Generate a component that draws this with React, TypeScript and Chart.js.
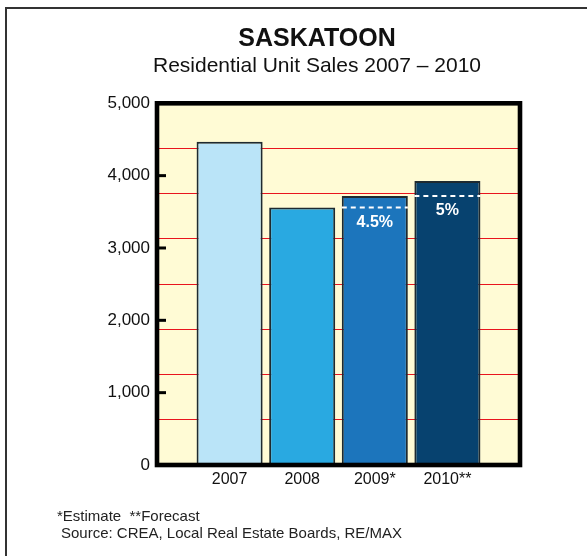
import React, { useEffect, useRef } from "react";
import { Chart, registerables } from "chart.js";

Chart.register(...registerables);

const years = ["2007", "2008", "2009*", "2010**"];
const sales = [4470, 3560, 3720, 3925];
const changeLabels = ["", "", "4.5%", "5%"];
const barColors = ["#BAE4F8", "#29A9E1", "#1C75BC", "#07426F"];
const yTickValues = [0, 1000, 2000, 3000, 4000, 5000];
const gridStep = 625;

const FONT = "'Liberation Sans', Arial, Helvetica, sans-serif";

const framePlugin = {
  id: "framePlugin",
  beforeDraw(chart: any) {
    const { ctx, chartArea } = chart;
    ctx.save();
    ctx.fillStyle = "#FFFBD5";
    ctx.fillRect(chartArea.left, chartArea.top, chartArea.right - chartArea.left, chartArea.bottom - chartArea.top);
    ctx.restore();
  },
  afterDatasetsDraw(chart: any) {
    const { ctx, chartArea, scales } = chart;
    const meta = chart.getDatasetMeta(0);
    const y = scales.y;
    ctx.save();
    meta.data.forEach((bar: any, i: number) => {
      if (!changeLabels[i]) return;
      const half = bar.width / 2;
      const py = y.getPixelForValue(sales[i - 1]);
      ctx.strokeStyle = "#FFFFFF";
      ctx.lineWidth = 2;
      ctx.setLineDash([5, 4]);
      ctx.beginPath();
      ctx.moveTo(bar.x - half, py);
      ctx.lineTo(bar.x + half, py);
      ctx.stroke();
      ctx.setLineDash([]);
      ctx.fillStyle = "#FFFFFF";
      ctx.font = `bold 16px ${FONT}`;
      ctx.textAlign = "center";
      ctx.textBaseline = "middle";
      ctx.fillText(changeLabels[i], bar.x, py + 15);
    });
    ctx.strokeStyle = "#000";
    ctx.lineWidth = 3;
    yTickValues.forEach((v) => {
      const py = y.getPixelForValue(v);
      ctx.beginPath();
      ctx.moveTo(chartArea.left, py);
      ctx.lineTo(chartArea.left + 9, py);
      ctx.stroke();
    });
    ctx.lineWidth = 4.6;
    ctx.strokeStyle = "#000";
    ctx.strokeRect(chartArea.left, chartArea.top, chartArea.right - chartArea.left, chartArea.bottom - chartArea.top);
    ctx.restore();
  },
};

function SalesChart() {
  const ref = useRef<HTMLCanvasElement | null>(null);
  useEffect(() => {
    if (!ref.current) return;
    const chart = new Chart(ref.current, {
      type: "bar",
      data: {
        datasets: [
          {
            data: sales.map((v, i) => ({ x: i, y: v })),
            backgroundColor: barColors,
            borderColor: "#1E2A30",
            borderWidth: 2,
            barPercentage: 0.91,
            categoryPercentage: 1,
          },
        ],
      },
      options: {
        responsive: false,
        animation: false,
        events: [],
        layout: { padding: { left: 0, top: 103.3, right: 67, bottom: 61 } },
        plugins: { legend: { display: false }, tooltip: { enabled: false }, title: { display: false } },
        scales: {
          x: {
            type: "linear",
            min: -1,
            max: 4,
            offset: false,
            afterBuildTicks: (s: any) => {
              s.ticks = years.map((_, i) => ({ value: i }));
            },
            afterFit: (s: any) => {
              s.height = 30;
            },
            ticks: {
              callback: (v: any) => years[v] ?? "",
              color: "#111",
              font: { family: FONT, size: 16 },
              padding: 5,
              maxRotation: 0,
              autoSkip: false,
            },
            grid: { display: false, drawTicks: false },
            border: { display: false },
          },
          y: {
            min: 0,
            max: 5000,
            position: "left",
            afterBuildTicks: (s: any) => {
              s.ticks = yTickValues.map((v) => ({ value: v }));
            },
            afterFit: (s: any) => {
              s.width = 157;
            },
            ticks: {
              callback: (v: any) => Number(v).toLocaleString("en-US"),
              color: "#111",
              font: { family: FONT, size: 17 },
              padding: 7,
            },
            grid: { display: false, drawTicks: false },
            border: { display: false },
          },
          y2: {
            min: 0,
            max: 5000,
            position: "left",
            ticks: { display: false, stepSize: gridStep },
            afterFit: (s: any) => {
              s.width = 0;
            },
            grid: { color: "#E8141E", lineWidth: 1, drawTicks: false },
            border: { display: false },
          },
        },
      },
      plugins: [framePlugin],
    } as any);
    return () => chart.destroy();
  }, []);
  return <canvas ref={ref} width={587} height={556} style={{ position: "absolute", left: 0, top: 0 }} />;
}

export default function App() {
  return (
    <div style={{ position: "absolute", left: 0, top: 0, width: 587, height: 556, background: "#fff", overflow: "hidden", fontFamily: FONT }}>
      <div style={{ position: "absolute", left: 5, top: 7, width: 600, height: 600, borderTop: "2px solid #333", borderLeft: "2px solid #333" }} />
      <SalesChart />
      <div style={{ position: "absolute", left: 117, width: 400, top: 23, textAlign: "center", fontSize: 25, fontWeight: "bold", lineHeight: "28px", color: "#111" }}>
        SASKATOON
      </div>
      <div style={{ position: "absolute", left: 117, width: 400, top: 53, textAlign: "center", fontSize: 21, lineHeight: "24px", color: "#111" }}>
        Residential Unit Sales 2007 – 2010
      </div>
      <div style={{ position: "absolute", left: 57, top: 507, fontSize: 15, lineHeight: "17px", color: "#222", whiteSpace: "pre" }}>
        {"*Estimate  **Forecast"}
      </div>
      <div style={{ position: "absolute", left: 61, top: 524, fontSize: 15, lineHeight: "17px", color: "#222", whiteSpace: "pre" }}>
        {"Source: CREA, Local Real Estate Boards, RE/MAX"}
      </div>
    </div>
  );
}
